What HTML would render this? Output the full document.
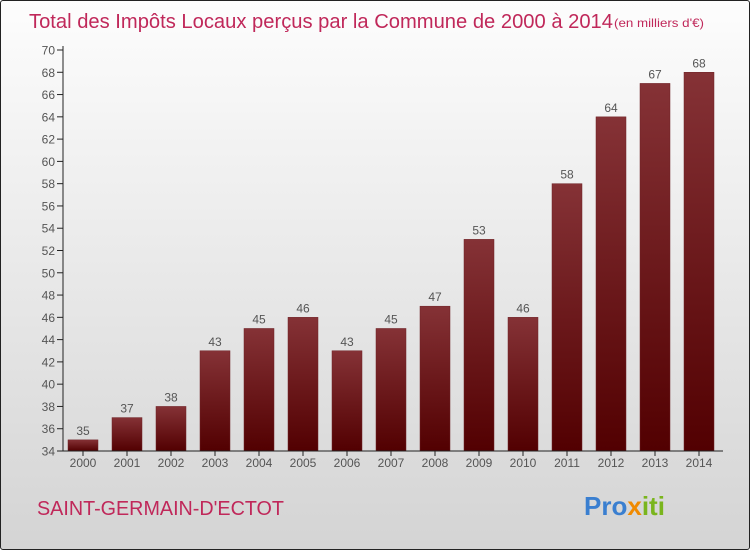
<!DOCTYPE html>
<html><head><meta charset="utf-8"><style>
html,body{margin:0;padding:0;}
body{width:750px;height:550px;overflow:hidden;font-family:"Liberation Sans",sans-serif;}
#wrap{position:relative;width:748px;height:548px;border:1px solid #222;border-radius:3px;background:linear-gradient(#fdfdfd,#d4d4d4);}
svg{position:absolute;left:0;top:0;}
</style></head><body>
<div id="wrap">
<svg id="chart" width="750" height="550">
<defs><linearGradient id="bg" x1="0" y1="0" x2="0" y2="1"><stop offset="0" stop-color="#853236"/><stop offset="1" stop-color="#520001"/></linearGradient></defs>
<text x="28" y="27" font-size="20" fill="#c0285a" textLength="584" lengthAdjust="spacingAndGlyphs">Total des Impôts Locaux perçus par la Commune de 2000 à 2014</text>
<text x="613" y="26" font-size="12" fill="#c0285a" textLength="90" lengthAdjust="spacingAndGlyphs">(en milliers d'€)</text>
<text x="36" y="514" font-size="20" fill="#c0285a" textLength="247" lengthAdjust="spacingAndGlyphs">SAINT-GERMAIN-D'ECTOT</text>
<text x="583" y="514" font-size="26" font-weight="bold"><tspan fill="#3a7fd0">Pro</tspan><tspan fill="#f08a00">x</tspan><tspan fill="#7ab51d">iti</tspan></text>
</svg>
</div>
<script>
const years=["2000","2001","2002","2003","2004","2005","2006","2007","2008","2009","2010","2011","2012","2013","2014"];
const values=[35,37,38,43,45,46,43,45,47,53,46,58,64,67,68];
const yTicks=[34,36,38,40,42,44,46,48,50,52,54,56,58,60,62,64,66,68,70];
const svg=document.getElementById('chart');
const NS='http://www.w3.org/2000/svg';
const y=v=>450-(v-34)*(401/36);
const x=i=>82+i*44;
function mk(t,a){const e=document.createElementNS(NS,t);for(const k in a)e.setAttribute(k,a[k]);svg.appendChild(e);return e;}
yTicks.forEach(v=>{
 const l=mk('line',{x1:56,x2:62,y1:y(v),y2:y(v),stroke:'#222'});
 
 
 const t=mk('text',{x:54,y:y(v)+4.5,'font-size':12,fill:'#555','text-anchor':'end'});
 t.textContent=v;
 
 
});
values.forEach((v,i)=>{
 const r=mk('rect',{x:x(i)-15,y:y(v),width:30,height:450-y(v),fill:'url(#bg)',stroke:'#6e2226','stroke-width':0.5});
 
 
 const t=mk('text',{x:x(i),y:y(v)-5,'font-size':12,fill:'#555','text-anchor':'middle'});
 t.textContent=v;
 
 
 const tk=mk('line',{x1:x(i),x2:x(i),y1:450,y2:455,stroke:'#222'});
 
 
 const xl=mk('text',{x:x(i),y:466,'font-size':12,fill:'#555','text-anchor':'middle'});
 xl.textContent=years[i];
 
 
});
const ya=mk('line',{x1:62,x2:62,y1:45,y2:450,stroke:'#222'});


const xa=mk('line',{x1:62,x2:722,y1:450,y2:450,stroke:'#222'});


</script>
</body></html>
